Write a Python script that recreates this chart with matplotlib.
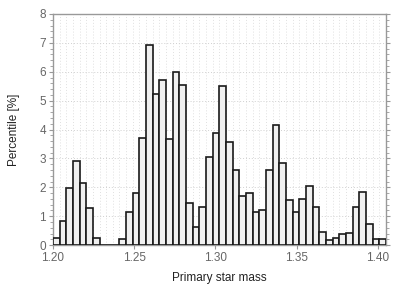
import numpy as np
import matplotlib
matplotlib.use("Agg")
import matplotlib.pyplot as plt
from matplotlib.ticker import MultipleLocator, FixedLocator

plt.rcParams["font.family"] = ["Liberation Sans", "DejaVu Sans"]

# histogram of primary star mass, 50 bins
mass_min = 1.200
mass_max = 1.405
n_bins = 50
percentile = [
    0.25, 0.83, 1.99, 2.92, 2.14, 1.27, 0.25, 0.0, 0.0, 0.0,
    0.21, 1.13, 1.80, 3.71, 6.92, 5.24, 5.72, 3.66, 6.00, 5.54,
    1.47, 0.61, 1.33, 3.05, 3.87, 5.49, 3.57, 2.60, 1.71, 1.82,
    1.13, 1.21, 2.59, 4.15, 2.84, 1.56, 1.14, 1.60, 2.03, 1.31,
    0.46, 0.17, 0.24, 0.40, 0.43, 1.31, 1.85, 0.74, 0.22, 0.22,
]
x_ticks = [1.20, 1.25, 1.30, 1.35, 1.40]
x_labels = ["1.20", "1.25", "1.30", "1.35", "1.40"]

edges = np.linspace(mass_min, mass_max, n_bins + 1)
width = edges[1] - edges[0]

fig = plt.figure(figsize=(4.07, 2.85), dpi=100)
ax = fig.add_axes([0.130, 0.140, 0.818, 0.811])

ax.bar(edges[:-1], percentile, width=width, align="edge",
       color="#f0f0f0", edgecolor="#1a1a1a", linewidth=1.2, zorder=3)

ax.set_xlim(mass_min, mass_max)
ax.set_ylim(0, 8)
ax.set_xticks(x_ticks)
ax.set_xticklabels(x_labels)
ax.xaxis.set_minor_locator(FixedLocator(edges))
ax.yaxis.set_major_locator(MultipleLocator(1))
ax.yaxis.set_minor_locator(MultipleLocator(0.2))

ax.grid(which="major", axis="y", color="#d0d0d0", linestyle=(0, (1, 2)), linewidth=0.7, zorder=0)
ax.grid(which="minor", axis="x", color="#e0e0e0", linestyle=(0, (1, 2)), linewidth=0.7, zorder=0)

for s in ax.spines.values():
    s.set_color("#999999")
    s.set_linewidth(1.0)

ax.tick_params(which="both", colors="#999999", labelcolor="#666666", labelsize=8.5)
ax.tick_params(which="major", length=3, width=0.8, pad=2)
ax.tick_params(which="minor", length=2, width=0.6)
ax.tick_params(axis="x", which="minor", length=0)
ax.tick_params(axis="y", which="both", right=True)

ax.set_xlabel("Primary star mass", fontsize=8.5, color="#222222", labelpad=6)
ax.set_ylabel("Percentile [%]", fontsize=8.5, color="#222222", labelpad=14)

fig.savefig("out.png", dpi=100)
